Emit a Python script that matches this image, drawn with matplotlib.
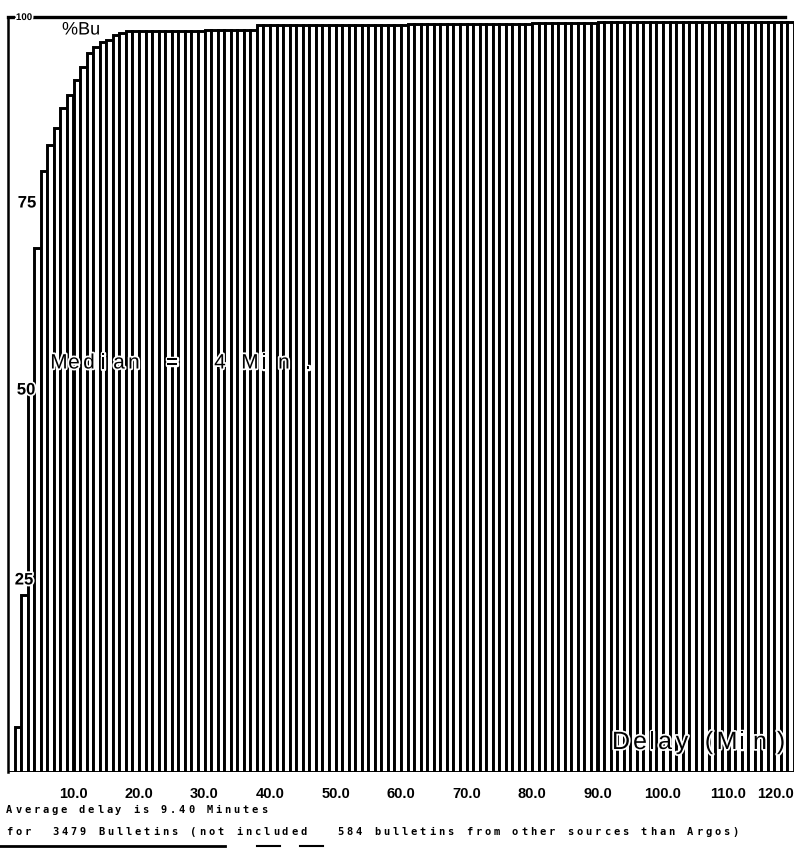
import matplotlib
matplotlib.use("Agg")
import matplotlib.pyplot as plt
import matplotlib.patheffects as pe

# ---------------- data ----------------
delay_minutes = list(range(0, 120))          # bin start (minutes), each bin 1 minute wide
cumulative_pct = [
    0.0, 6.0, 23.4, 51.0, 69.4, 79.6, 83.0, 85.3, 87.9, 89.7,
    91.7, 93.4, 95.2, 96.0, 96.7, 97.0, 97.6, 97.9, 98.1, 98.1,
    98.2, 98.2, 98.2, 98.2, 98.2, 98.2, 98.2, 98.2, 98.2, 98.2,
    98.3, 98.3, 98.3, 98.3, 98.3, 98.3, 98.3, 98.3, 98.9, 98.9,
    98.9, 98.9, 98.9, 98.9, 98.9, 98.9, 98.9, 98.9, 98.9, 98.9,
    98.9, 98.9, 98.9, 98.9, 98.9, 98.9, 98.9, 98.9, 98.9, 98.9,
    99.0, 99.1, 99.1, 99.1, 99.1, 99.1, 99.1, 99.1, 99.1, 99.1,
    99.1, 99.1, 99.1, 99.1, 99.1, 99.1, 99.1, 99.1, 99.1, 99.1,
    99.2, 99.2, 99.2, 99.2, 99.2, 99.2, 99.2, 99.2, 99.2, 99.2,
    99.3, 99.3, 99.3, 99.3, 99.3, 99.3, 99.3, 99.3, 99.3, 99.3,
    99.3, 99.3, 99.3, 99.3, 99.3, 99.3, 99.3, 99.3, 99.3, 99.3,
    99.3, 99.3, 99.3, 99.3, 99.3, 99.3, 99.3, 99.3, 99.3, 99.3,
]
x_ticks = [10, 20, 30, 40, 50, 60, 70, 80, 90, 100, 110, 120]
x_tick_labels = ["10.0", "20.0", "30.0", "40.0", "50.0", "60.0", "70.0",
                 "80.0", "90.0", "100.0", "110.0", "120.0"]
y_ticks = [100, 75, 50, 25]
y_tick_labels = ["100", "75", "50", "25"]
median_text = "Median  =   4 Min ."
axis_title = "Delay (Min)"
corner_title = "%Bu"
note_line1 = "Average delay is 9.40 Minutes"
note_line2 = "for  3479 Bulletins (not included   584 bulletins from other sources than Argos)"

# ---------------- figure ----------------
W, H = 806, 848
fig = plt.figure(figsize=(W / 100, H / 100), dpi=100)
fig.patch.set_facecolor("white")

lab_font = ["Liberation Sans", "DejaVu Sans"]
halo = [pe.withStroke(linewidth=2.5, foreground="white")]

def px(x, y):
    return x / W, 1 - y / H

ax = fig.add_axes([8 / W, (H - 772) / H, 786 / W, 755 / H])
ax.set_xlim(0, 120)
ax.set_ylim(0, 100)
ax.bar(delay_minutes, cumulative_pct, width=1.0, align="edge",
       color="white", edgecolor="black", linewidth=2.1, zorder=2)
for s in ("top", "right", "bottom"):
    ax.spines[s].set_visible(False)
ax.spines["left"].set_linewidth(1.8)
ax.axhline(100, xmin=0, xmax=777 / 786, color="black", lw=2.4, zorder=3,
           clip_on=False)

ax.set_xticks(x_ticks)
ax.set_xticklabels(x_tick_labels, fontfamily=lab_font, fontweight="bold",
                   fontsize=10.5)
ax.get_xticklabels()[-1].set_horizontalalignment("right")
ax.tick_params(axis="x", length=0, pad=11)
ax.set_yticks([])
ax.set_facecolor("white")

# y tick labels (placed inside the plotting frame as in the original)
ylab_pos = {"100": (24, 17, 7), "75": (27, 203, 12), "50": (26, 390, 12),
            "25": (24, 580, 12)}
for lab in y_tick_labels:
    x, y, fs = ylab_pos[lab]
    fig.text(*px(x, y), lab, ha="center", va="center", fontsize=fs,
             fontfamily=lab_font, fontweight="bold", zorder=5,
             path_effects=halo)

# corner title
fig.text(*px(62, 30), corner_title, ha="left", va="center", fontsize=13,
         fontfamily=lab_font, zorder=5, path_effects=halo)

# median annotation (widely spaced characters)
median_x = [59, 74, 89, 103, 119, 134, 150, 160, 172, 185, 198, 210, 220, 235,
            250, 264, 284, 296, 308]
for ch, x in zip(median_text, median_x):
    if ch != " ":
        fig.text(*px(x, 363), ch, ha="center", va="center", fontsize=15,
                 fontfamily=lab_font, zorder=5, path_effects=halo)

# axis title at bottom right
title_x = [621, 640, 652, 665, 682, 697, 709, 727, 742, 760, 781]
for ch, x in zip(axis_title, title_x):
    if ch != " ":
        fig.text(*px(x, 742), ch, ha="center", va="center", fontsize=18,
                 fontfamily=lab_font, zorder=5, path_effects=halo)

# bottom notes (dot-matrix style, fixed pitch)
def spaced(x0, y, s, pitch):
    for i, ch in enumerate(s):
        if ch != " ":
            fig.text(*px(x0 + i * pitch, y), ch, ha="left", va="center",
                     fontsize=7.5, fontfamily="DejaVu Sans Mono",
                     fontweight="bold")

spaced(6, 810, note_line1, 9.1)
spaced(6, 832, note_line2, 9.2)

# broken rule at the very bottom
fig.add_artist(plt.Line2D([0, 225 / W], [1 - 846 / H] * 2, color="black",
                          lw=2, transform=fig.transFigure))
fig.add_artist(plt.Line2D([257 / W, 280 / W], [1 - 846 / H] * 2, color="black",
                          lw=1.5, transform=fig.transFigure))
fig.add_artist(plt.Line2D([300 / W, 323 / W], [1 - 846 / H] * 2, color="black",
                          lw=1.5, transform=fig.transFigure))

fig.savefig("out.png", dpi=100, facecolor="white")
